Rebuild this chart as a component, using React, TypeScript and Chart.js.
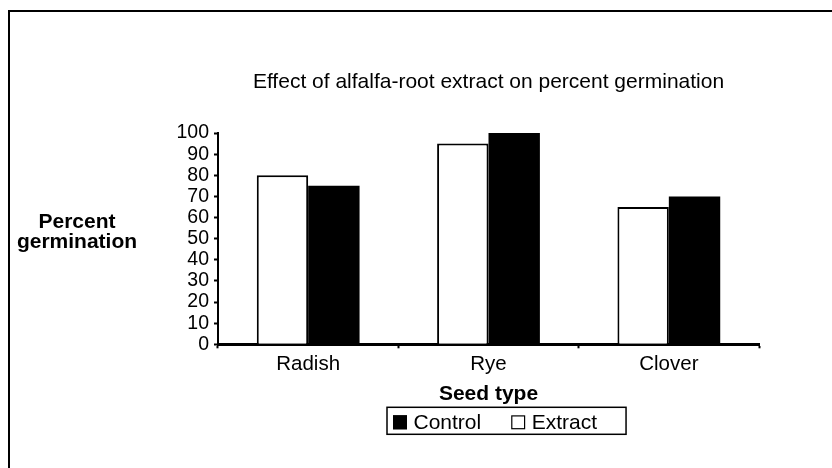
import React, { useEffect, useRef } from 'react';
import { Chart, registerables } from 'chart.js';

Chart.register(...registerables);

// ---- data ----
const categories = ['Radish', 'Rye', 'Clover'];
const extractValues = [80, 95, 65];
const controlValues = [75, 100, 70];
const extractLabel = 'Extract';
const controlLabel = 'Control';
const yMin = 0;
const yMax = 100;
const yStep = 10;
const chartTitle = 'Effect of alfalfa-root extract on percent germination';
const xAxisTitle = 'Seed type';
const yAxisTitleLines = ['Percent', 'germination'];

const FONT = "'Liberation Sans', Arial, Helvetica, sans-serif";

const framePlugin = {
  id: 'frame',
  beforeDraw(chart: any) {
    const { ctx, width, height } = chart;
    ctx.save();
    ctx.fillStyle = '#fff';
    ctx.fillRect(0, 0, width, height);
    ctx.strokeStyle = '#000';
    ctx.lineWidth = 2;
    ctx.strokeRect(9, 11, width + 20, height + 20);
    ctx.restore();
  },
};

const yTitlePlugin = {
  id: 'yTitle',
  afterDraw(chart: any) {
    const { ctx, chartArea } = chart;
    ctx.save();
    ctx.fillStyle = '#000';
    ctx.font = `bold 21px ${FONT}`;
    ctx.textAlign = 'center';
    ctx.textBaseline = 'middle';
    yAxisTitleLines.forEach((line, i) => {
      ctx.fillText(line, 77, chartArea.top + 89 + i * 20);
    });
    ctx.restore();
  },
};

const boxedLegendPlugin = {
  id: 'boxedLegend',
  afterDraw(chart: any) {
    const { ctx, chartArea } = chart;
    const items = [...chart.data.datasets].reverse();
    ctx.save();
    ctx.font = `21px ${FONT}`;
    ctx.textBaseline = 'alphabetic';
    ctx.textAlign = 'left';
    const left = chartArea.left + 169;
    const top = chartArea.bottom + 63;
    const bottom = chartArea.bottom + 90;
    const sq = 14;
    const sqTop = chartArea.bottom + 71;
    const baseline = chartArea.bottom + 85;
    let x = left + 6;
    items.forEach((ds: any, i: number) => {
      ctx.fillStyle = ds.backgroundColor;
      ctx.fillRect(x, sqTop, sq, sq);
      ctx.strokeStyle = '#000';
      ctx.lineWidth = 1.2;
      ctx.strokeRect(x + 0.6, sqTop + 0.6, sq - 1.2, sq - 1.2);
      x += sq + 6.5;
      ctx.fillStyle = '#000';
      ctx.fillText(ds.label, x, baseline);
      x += ctx.measureText(ds.label).width;
      if (i < items.length - 1) x += 30;
    });
    const right = x + 29;
    ctx.strokeStyle = '#000';
    ctx.lineWidth = 1.5;
    ctx.strokeRect(left, top, right - left, bottom - top);
    ctx.restore();
  },
};

export default function App() {
  const canvasRef = useRef<HTMLCanvasElement | null>(null);

  useEffect(() => {
    if (!canvasRef.current) return;
    const chart = new Chart(canvasRef.current, {
      type: 'bar',
      data: {
        labels: categories,
        datasets: [
          {
            label: extractLabel,
            data: extractValues,
            backgroundColor: '#ffffff',
            borderColor: '#000000',
            borderWidth: 2,
            borderSkipped: 'bottom',
            categoryPercentage: 0.57,
            barPercentage: 1.0,
          },
          {
            label: controlLabel,
            data: controlValues,
            backgroundColor: '#000000',
            borderColor: '#000000',
            borderWidth: 0,
            categoryPercentage: 0.57,
            barPercentage: 1.0,
          },
        ],
      },
      options: {
        responsive: false,
        animation: false,
        devicePixelRatio: 1,
        layout: { padding: { left: 172, right: 73, top: 0, bottom: 60 } },
        plugins: {
          legend: { display: false },
          tooltip: { enabled: false },
          title: {
            display: true,
            text: chartTitle,
            color: '#000',
            fullSize: false,
            font: { family: FONT, size: 21, weight: 'normal' },
            padding: { top: 69.4, bottom: 38.4 },
          },
        },
        scales: {
          x: {
            grid: {
              display: true,
              drawOnChartArea: false,
              drawTicks: true,
              tickLength: 4,
              tickWidth: 2,
              tickColor: '#000',
              offset: true,
            },
            border: { display: true, color: '#000', width: 3 },
            ticks: {
              color: '#000',
              font: { family: FONT, size: 20.5 },
              padding: 3.7,
              maxRotation: 0,
            },
            title: {
              display: true,
              text: xAxisTitle,
              color: '#000',
              font: { family: FONT, size: 21, weight: 'bold' },
              padding: { top: 1.5, bottom: 1 },
            },
          },
          y: {
            min: yMin,
            max: yMax,
            ticks: {
              stepSize: yStep,
              autoSkip: false,
              color: '#000',
              font: { family: FONT, size: 19.5, lineHeight: 1 },
              padding: 5,
            },
            grid: {
              drawOnChartArea: false,
              tickLength: 4,
              tickWidth: 2,
              tickColor: '#000',
            },
            border: { display: true, color: '#000', width: 2 },
            afterFit(scale: any) {
              scale.width = 46;
            },
          },
        },
      },
      plugins: [framePlugin, yTitlePlugin, boxedLegendPlugin],
    });
    return () => chart.destroy();
  }, []);

  return (
    <div style={{ position: 'fixed', left: 0, top: 0, width: 832, height: 468, overflow: 'hidden', background: '#fff' }}>
      <canvas ref={canvasRef} width={832} height={468} style={{ display: 'block', width: 832, height: 468 }} />
    </div>
  );
}
